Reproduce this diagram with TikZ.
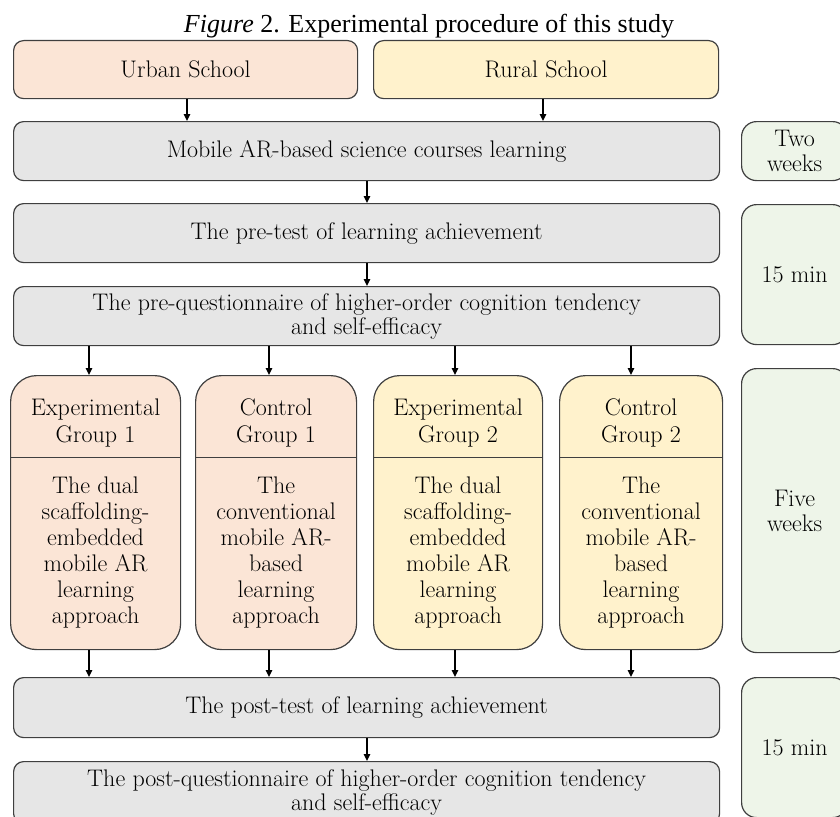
\documentclass[tikz,border=0pt]{standalone}
\usepackage{fontspec}
\newfontfamily\titlefont{Liberation Serif}
\usetikzlibrary{arrows.meta}
\definecolor{peach}{HTML}{FBE5D6}
\definecolor{cream}{HTML}{FFF2CC}
\definecolor{greyfill}{HTML}{E6E6E6}
\definecolor{greenfill}{HTML}{EEF5E9}
\definecolor{edge}{HTML}{3F3F3F}
\begin{document}
\begin{tikzpicture}[x=1pt,y=-1pt,
  box/.style={draw=edge, line width=1.2pt, anchor=north west, inner sep=0pt, align=center, text=black, font=\fontsize{24}{25}\selectfont},
  wide/.style={box, rounded corners=10pt, fill=greyfill, minimum width=706pt, minimum height=59pt},
  school/.style={box, rounded corners=10pt, minimum height=58pt},
  side/.style={box, rounded corners=15pt, fill=greenfill, minimum width=106pt},
  grp/.style={draw=edge, line width=1.2pt, anchor=north west, rounded corners=26pt, minimum height=274pt, inner sep=0pt},
  head/.style={inner sep=0pt, align=center, text=black, font=\fontsize{24}{27}\selectfont},
  body/.style={inner sep=0pt, align=center, text=black, font=\fontsize{24}{26}\selectfont},
  arr/.style={line width=1.4pt, -{Triangle[length=7pt,width=6.5pt]}},
  divider/.style={draw=edge, line width=0.8pt}
]
\useasboundingbox (0,0) rectangle (840,816);

% title
\node[font=\titlefont\fontsize{26}{30}\selectfont, anchor=base, inner sep=0pt] (title) at (429,33) {\textit{Figure} 2. Experimental procedure of this study};

% schools
\node[school, fill=peach, minimum width=344pt] (urban) at (13,40) {Urban School};
\node[school, fill=cream, minimum width=345pt] (rural) at (373,40) {Rural School};

% main steps
\node[wide] (mobile) at (13,121) {Mobile AR-based science courses learning};
\node[wide] (pretest) at (13,203) {The pre-test of learning achievement};
\node[wide, font=\fontsize{24}{24}\selectfont] (prequest) at (13,286) {The pre-questionnaire of higher-order cognition tendency\\and self-efficacy};
\node[wide, minimum height=60pt] (posttest) at (13,677) {The post-test of learning achievement};
\node[wide, minimum height=62pt, font=\fontsize{24}{24}\selectfont] (postquest) at (13,761) {The post-questionnaire of higher-order cognition tendency\\and self-efficacy};

% durations
\node[side, minimum height=59pt] (twoweeks) at (741,121) {Two\\weeks};
\node[side, minimum height=140pt] (minA) at (741,204) {15 min};
\node[side, minimum height=284pt] (fiveweeks) at (741,368) {Five\\weeks};
\node[side, minimum height=140pt] (minB) at (741,677) {15 min};

% groups
\node[grp, fill=peach, minimum width=170pt] (eg1) at (10,375) {};
\node[grp, fill=peach, minimum width=161pt] (cg1) at (195,375) {};
\node[grp, fill=cream, minimum width=169pt] (eg2) at (373,375) {};
\node[grp, fill=cream, minimum width=163pt] (cg2) at (559,375) {};

\coordinate (divy) at (0,457);
\coordinate (hy) at (0,423);
\coordinate (by) at (0,553);
\foreach \g in {eg1,cg1,eg2,cg2} {
  \draw[divider] (\g.west |- divy) -- (\g.east |- divy);
}

\node[head] (eg1h) at (eg1.north |- hy) {Experimental\\Group 1};
\node[head] (cg1h) at (cg1.north |- hy) {Control\\Group 1};
\node[head] (eg2h) at (eg2.north |- hy) {Experimental\\Group 2};
\node[head] (cg2h) at (cg2.north |- hy) {Control\\Group 2};

\node[body] (eg1b) at (eg1.north |- by) {The dual\\scaffolding-\\embedded\\mobile AR\\learning\\approach};
\node[body] (cg1b) at (cg1.north |- by) {The\\conventional\\mobile AR-\\based\\learning\\approach};
\node[body] (eg2b) at (eg2.north |- by) {The dual\\scaffolding-\\embedded\\mobile AR\\learning\\approach};
\node[body] (cg2b) at (cg2.north |- by) {The\\conventional\\mobile AR-\\based\\learning\\approach};

% arrows
\coordinate (cu) at (187,0);
\coordinate (cr) at (543,0);
\coordinate (cm) at (367,0);
\coordinate (c1) at (89,0);
\coordinate (c2) at (269,0);
\coordinate (c3) at (455,0);
\coordinate (c4) at (631,0);

\draw[arr] (urban.south -| cu) -- (mobile.north -| cu);
\draw[arr] (rural.south -| cr) -- (mobile.north -| cr);
\draw[arr] (mobile.south -| cm) -- (pretest.north -| cm);
\draw[arr] (pretest.south -| cm) -- (prequest.north -| cm);
\foreach \g/\c in {eg1/c1,cg1/c2,eg2/c3,cg2/c4} {
  \draw[arr] (prequest.south -| \c) -- (\g.north -| \c);
  \draw[arr] (\g.south -| \c) -- (posttest.north -| \c);
}
\draw[arr] (posttest.south -| cm) -- (postquest.north -| cm);
\end{tikzpicture}
\end{document}
